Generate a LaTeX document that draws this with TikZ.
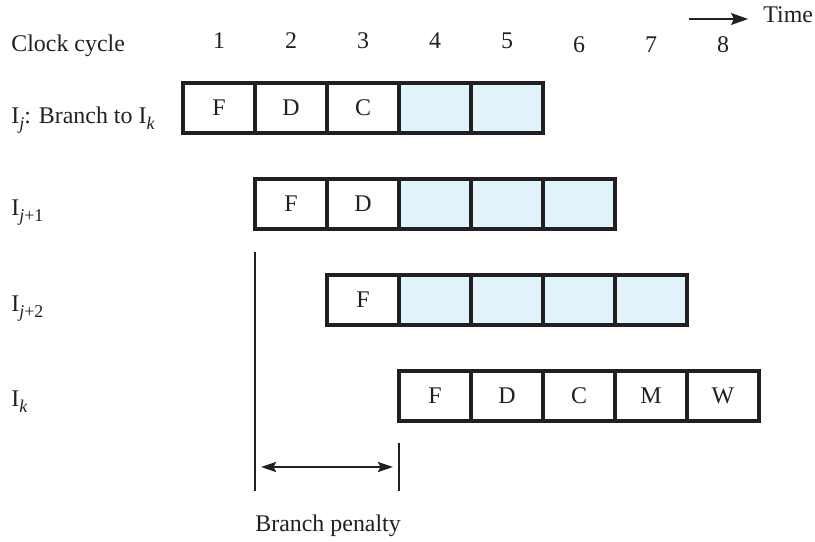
\documentclass[tikz,border=0pt]{standalone}
\usepackage{fontspec}
\setmainfont{Liberation Serif}
\usepackage{tikz}
\usetikzlibrary{arrows.meta,positioning}
\usepackage{xcolor}
\definecolor{pipeInk}{HTML}{231F20}
\definecolor{pipeBlue}{HTML}{E0F3FA}
\newcommand{\lowidx}[1]{\raisebox{-2.6pt}{\fontsize{9}{10}\selectfont #1}}
\tikzset{
  stg/.style={draw=pipeInk, line width=1.6bp, outer sep=0pt, inner sep=0pt, minimum width=36bp, minimum height=25bp, fill=white},
  stgB/.style={stg, fill=pipeBlue},
  rowfrm/.style={draw=pipeInk, line width=2.2bp},
  lbl/.style={anchor=base west, inner sep=0pt},
  num/.style={anchor=base, inner sep=0pt},
  penline/.style={draw=pipeInk, line width=0.75bp},
  arr/.style={-{Stealth[length=8.5bp, width=6bp, inset=1.5bp]}, line width=0.9bp, draw=pipeInk},
  darr/.style={{Stealth[length=7.5bp, width=5bp, inset=1.2bp]}-{Stealth[length=7.5bp, width=5bp, inset=1.2bp]}, line width=1bp, draw=pipeInk},
}

\begin{document}
\begin{tikzpicture}[x=0.5bp, y=-0.5bp, node distance=0pt, every node/.style={font=\fontsize{12}{14}\selectfont, text=pipeInk}]
            \useasboundingbox (0,0) rectangle (815,542);
            % time axis
            \coordinate (t0) at (689,19); \coordinate (t1) at (748,19);
            \draw[arr] (t0) -- (t1);
            \node[lbl] (time) at (763,23) {Time};
            \node[lbl] (clk) at (11,52) {Clock cycle};
            \foreach \c in {1,...,5} {\node[num] (n\c) at (219+72*\c-72,49) {\c};}
            \foreach \c in {6,7,8} {\node[num] (n\c) at (219+72*\c-72,53) {\c};}
            % row labels
            \node[lbl] (lj) at (11,124) {I\lowidx{\textit{j}}: Branch to I\lowidx{\textit{k}}};
            \node[lbl] (lj1) at (11,216) {I\lowidx{\textit{j}+1}};
            \node[lbl] (lj2) at (11,312) {I\lowidx{\textit{j}+2}};
            \node[lbl] (lk) at (11,407) {I\lowidx{\textit{k}}};
            % I_j
            \node[stg] (a1) at (219,108) {F};
            \node[stg, right=of a1] (a2) {D};
            \node[stg, right=of a2] (a3) {C};
            \node[stgB, right=of a3] (a4) {};
            \node[stgB, right=of a4] (a5) {};
            % I_j+1
            \node[stg] (b1) at (291,204) {F};
            \node[stg, right=of b1] (b2) {D};
            \node[stgB, right=of b2] (b3) {};
            \node[stgB, right=of b3] (b4) {};
            \node[stgB, right=of b4] (b5) {};
            % I_j+2
            \node[stg] (c1) at (363,300) {F};
            \node[stgB, right=of c1] (c2) {};
            \node[stgB, right=of c2] (c3) {};
            \node[stgB, right=of c3] (c4) {};
            \node[stgB, right=of c4] (c5) {};
            % I_k
            \node[stg] (d1) at (435,396) {F};
            \node[stg, right=of d1] (d2) {D};
            \node[stg, right=of d2] (d3) {C};
            \node[stg, right=of d3] (d4) {M};
            \node[stg, right=of d4] (d5) {W};
            \draw[rowfrm] (a1.north west) rectangle (a5.south east); \draw[rowfrm] (b1.north west) rectangle (b5.south east);
            \draw[rowfrm] (c1.north west) rectangle (c5.south east); \draw[rowfrm] (d1.north west) rectangle (d5.south east);
            % branch penalty
            \coordinate (pl0) at (255,252); \coordinate (pl1) at (255,491);
            \coordinate (pr0) at (399,443); \coordinate (pr1) at (399,491);
            \draw[penline] (pl0) -- (pl1); \draw[penline] (pr0) -- (pr1);
            \coordinate (p0) at (261,467); \coordinate (p1) at (393,467);
            \draw[darr] (p0) -- (p1);
            \node[lbl] (pen) at (255,532) {Branch penalty};
        \end{tikzpicture}
\end{document}
